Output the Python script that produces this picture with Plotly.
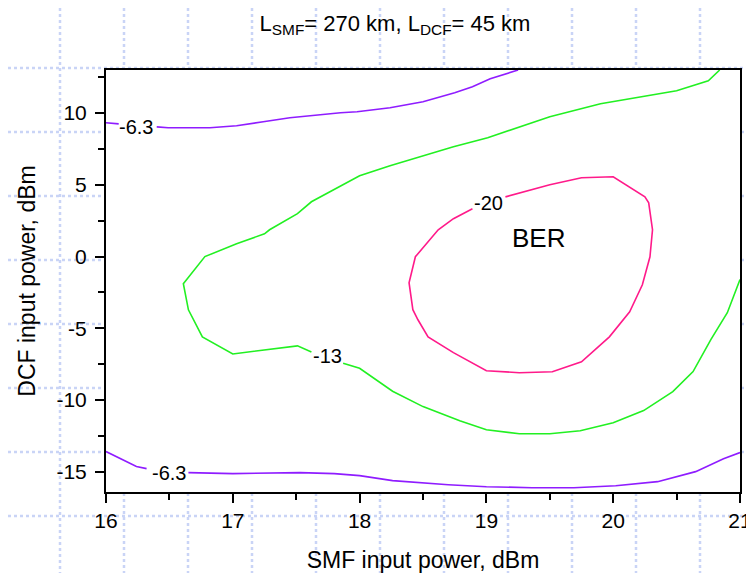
import plotly.graph_objects as go

# ---- data ----
# BER contour -6.3, upper branch (None = gap where the label sits)
c63_top_x = [16.00, 16.10, None, 16.40, 16.49, 16.82, 17.03, 17.24, 17.45, 17.85, 17.98,
             18.24, 18.50, 18.75, 18.89, 19.03, 19.25]
c63_top_y = [9.32, 9.25, None, 9.04, 8.98, 8.98, 9.12, 9.39, 9.67, 10.02, 10.09,
             10.37, 10.79, 11.41, 11.83, 12.39, 13.0]

# BER contour -6.3, lower branch
c63_bot_x = [16.00, 16.24, 16.32, None, 16.65, 17.00, 17.53, 17.80, 18.00, 18.26, 18.70,
             19.00, 19.36, 19.69, 20.02, 20.35, 20.65, 20.87, 21.00]
c63_bot_y = [-13.58, -14.63, -14.77, None, -15.05, -15.12, -15.05, -15.12, -15.26, -15.61,
             -15.89, -16.03, -16.10, -16.10, -15.96, -15.68, -14.98, -14.08, -13.65]

# BER contour -13
c13_x = [20.84, 20.75, 20.50, 19.90, 19.50, 19.24, 19.01, 18.74, 18.45, 18.24, 18.00,
         17.62, 17.51, 17.29, 17.25, 17.03, 16.78, 16.61, 16.65, 16.76, 17.00, 17.51,
         17.62, None, 17.87, 18.00, 18.26, 18.50, 18.79, 19.00, 19.26, 19.50, 19.74,
         20.00, 20.24, 20.47, 20.63, 20.77, 20.90, 20.99, 21.00]
c13_y = [13.0, 12.25, 11.55, 10.65, 9.74, 8.98, 8.28, 7.65, 6.89, 6.33, 5.63,
         3.82, 2.99, 1.87, 1.59, 0.90, 0.0, -1.89, -3.71, -5.59, -6.78, -6.22,
         -6.64, None, -7.43, -7.78, -9.38, -10.45, -11.43, -12.06, -12.34, -12.34, -12.13,
         -11.57, -10.73, -9.41, -8.01, -5.78, -3.91, -1.75, -1.6]

# BER contour -20 (closed loop, open where the label sits)
c20_x = [19.15, 19.50, 19.75, 20.00, 20.25, 20.28, 20.31, 20.29, 20.23, 20.13, 19.97,
         19.75, 19.52, 19.26, 19.00, 18.74, 18.54, 18.46, 18.42, 18.39, 18.44, 18.62,
         18.74, 18.89]
c20_y = [4.16, 5.00, 5.49, 5.56, 4.16, 3.75, 1.87, -0.01, -1.96, -3.84, -5.59,
         -7.33, -8.02, -8.09, -7.95, -6.69, -5.59, -4.40, -3.70, -1.82, -0.01, 1.87,
         2.64, 3.33]

# contour labels
label_text = ["-6.3", "-6.3", "-13", "-20"]
label_x = [16.24, 16.50, 17.75, 19.02]
label_y = [9.05, -15.08, -6.9, 3.76]

x_ticks = [16, 17, 18, 19, 20, 21]
x_ticktext = ["16", "17", "18", "19", "20", "21"]
y_ticks = [-15, -10, -5, 0, 5, 10]
y_ticktext = ["-15", "-10", "-5", "0", "5", "10"]

FONT = "Arial, Liberation Sans, sans-serif"
PURPLE = "#8f1cff"
GREEN = "#22f022"
PINK = "#ff1a8a"

fig = go.Figure()
fig.add_trace(go.Scatter(x=c63_top_x, y=c63_top_y, mode="lines",
                         line=dict(color=PURPLE, width=1.6), connectgaps=False))
fig.add_trace(go.Scatter(x=c63_bot_x, y=c63_bot_y, mode="lines",
                         line=dict(color=PURPLE, width=1.6), connectgaps=False))
fig.add_trace(go.Scatter(x=c13_x, y=c13_y, mode="lines",
                         line=dict(color=GREEN, width=1.6), connectgaps=False))
fig.add_trace(go.Scatter(x=c20_x, y=c20_y, mode="lines",
                         line=dict(color=PINK, width=1.6)))

for t, x, y in zip(label_text, label_x, label_y):
    fig.add_annotation(x=x, y=y, text=t, showarrow=False,
                       font=dict(family=FONT, size=20, color="black"))
fig.add_annotation(x=19.41, y=1.3, text="BER", showarrow=False,
                   font=dict(family=FONT, size=26, color="black"))

# figure geometry (the page adds an 8 px body margin on top/left)
W, H = 746, 565
L, R, T, B = 98, 732, 62, 484

# slide background: light dotted grid, kept outside the plotting area
dot = dict(color="#c9d4f6", width=2.5, dash="dot")
shapes = []
def px2paper(px, py):
    return (px - L) / (R - L), (B - py) / (B - T)
vx = [52, 116, 180, 244, 308, 372, 436, 500, 564, 628, 692]
hy = [60, 124, 188, 252, 316, 380, 444, 508]
for x in vx:
    if x < L:
        segs = [(0, H)]
    else:
        segs = [(0, T - 1), (B + 1, H)]
    for y0, y1 in segs:
        a = px2paper(x, y0); b = px2paper(x, y1)
        shapes.append(dict(type="line", xref="paper", yref="paper", x0=a[0], x1=b[0],
                           y0=a[1], y1=b[1], line=dot, layer="below"))
for y in hy:
    if y < T or y > B:
        segs = [(0, W)]
    else:
        segs = [(0, L - 1), (R + 1, W)]
    for x0, x1 in segs:
        a = px2paper(x0, y); b = px2paper(x1, y)
        shapes.append(dict(type="line", xref="paper", yref="paper", x0=a[0], x1=b[0],
                           y0=a[1], y1=b[1], line=dot, layer="below"))

axis_common = dict(showline=True, linecolor="black", linewidth=2, mirror=True,
                   ticks="outside", ticklen=9, tickwidth=1.5, tickcolor="black",
                   showgrid=False, zeroline=False, automargin=False,
                   tickfont=dict(family=FONT, size=21, color="black"))

fig.update_layout(
    width=W, height=H,
    margin=dict(l=L, r=W - R, t=T, b=H - B, pad=0, autoexpand=False),
    paper_bgcolor="white", plot_bgcolor="white",
    showlegend=False,
    shapes=shapes,
    title=dict(text="L<sub>SMF</sub>= 270 km, L<sub>DCF</sub>= 45 km",
               x=387 / W, xanchor="center", xref="container",
               y=1 - 15 / H, yanchor="middle", yref="container",
               font=dict(family=FONT, size=22, color="black")),
    xaxis=dict(range=[16, 21], tickvals=x_ticks, ticktext=x_ticktext,
               minor=dict(dtick=0.5, ticks="outside", ticklen=6, tickwidth=1.5,
                          tickcolor="black", showgrid=False),
               title=dict(text="SMF input power, dBm", standoff=22,
                          font=dict(family=FONT, size=23, color="black")),
               **axis_common),
    yaxis=dict(range=[-16.4, 13.0], tickvals=y_ticks, ticktext=y_ticktext,
               ticklabelstandoff=4,
               minor=dict(dtick=2.5, ticks="outside", ticklen=6, tickwidth=1.5,
                          tickcolor="black", showgrid=False),
               title=dict(text="DCF input power, dBm", standoff=14,
                          font=dict(family=FONT, size=23, color="black")),
               **axis_common),
)

fig.write_html("out.html")
